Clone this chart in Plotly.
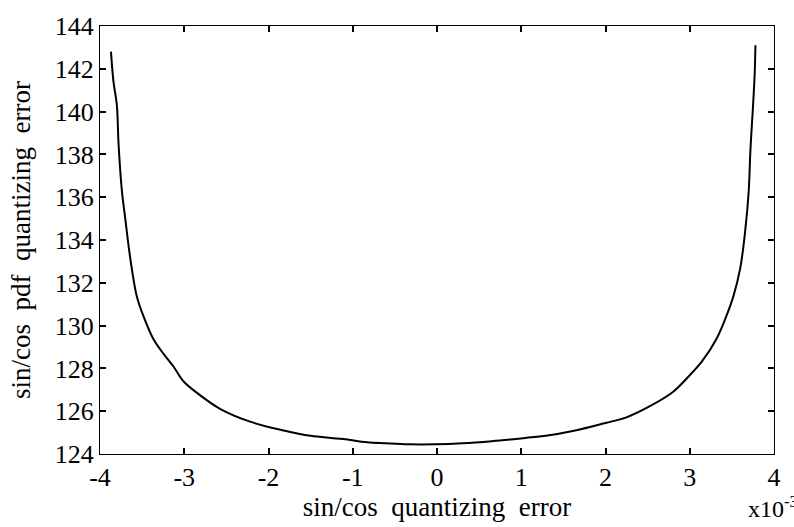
import plotly.graph_objects as go

# x values in units of 1e-3
err_x = [-3.87, -3.84, -3.80, -3.78, -3.74, -3.70, -3.66, -3.62, -3.565, -3.49,
         -3.37, -3.25, -3.13, -3.01, -2.83, -2.57, -2.21, -1.82, -1.50, -1.26,
         -1.11, -0.83, -0.61, -0.34, -0.02, 0.30, 0.65, 1.05, 1.29, 1.64,
         2.00, 2.24, 2.51, 2.80, 2.98, 3.14, 3.32, 3.44, 3.52, 3.60,
         3.66, 3.70, 3.72, 3.75, 3.77, 3.78]
pdf_y = [142.8, 141.4, 140.3, 138.5, 136.3, 135.0, 133.7, 132.6, 131.4, 130.5,
         129.4, 128.7, 128.1, 127.4, 126.8, 126.1, 125.5, 125.1, 124.85, 124.75,
         124.7, 124.55, 124.5, 124.45, 124.45, 124.5, 124.6, 124.75, 124.85, 125.1,
         125.45, 125.7, 126.2, 126.9, 127.6, 128.3, 129.4, 130.5, 131.4, 132.7,
         134.5, 136.3, 138.2, 140.2, 141.7, 143.1]

x_ticks = [-4, -3, -2, -1, 0, 1, 2, 3, 4]
y_ticks = [124, 126, 128, 130, 132, 134, 136, 138, 140, 142, 144]

FONT = "Liberation Serif"
SP = "\u00a0\u00a0"

fig = go.Figure()
fig.add_trace(go.Scatter(x=err_x, y=pdf_y, mode="lines", line_shape="spline",
                         line=dict(color="black", width=2), showlegend=False))

axis_common = dict(showgrid=False, zeroline=False, showline=True, linecolor="black",
                   linewidth=1, mirror="ticks", ticks="inside", ticklen=6,
                   tickcolor="black", tickwidth=2,
                   tickfont=dict(family=FONT, size=26, color="black"))

fig.update_layout(
    width=794, height=527,
    margin=dict(l=100, r=20, t=20, b=70),
    paper_bgcolor="white", plot_bgcolor="white",
    xaxis=dict(range=[-4, 4], tickvals=x_ticks, ticktext=[str(v) for v in x_ticks],
               title=dict(text=SP.join(["sin/cos", "quantizing", "error"]),
                          font=dict(family=FONT, size=27, color="black"), standoff=4),
               **axis_common),
    yaxis=dict(range=[124, 144], tickvals=y_ticks, ticktext=[str(v) for v in y_ticks],
               title=dict(text=SP.join(["sin/cos", "pdf", "quantizing", "error"]),
                          font=dict(family=FONT, size=27, color="black"), standoff=16),
               **axis_common),
    annotations=[dict(text="x10<sup>-3</sup>", xref="paper", yref="paper",
                      x=1.0, y=-0.085, xanchor="left", yanchor="top", xshift=-28,
                      showarrow=False, font=dict(family=FONT, size=24, color="black"))],
)

fig.write_html("out.html")
